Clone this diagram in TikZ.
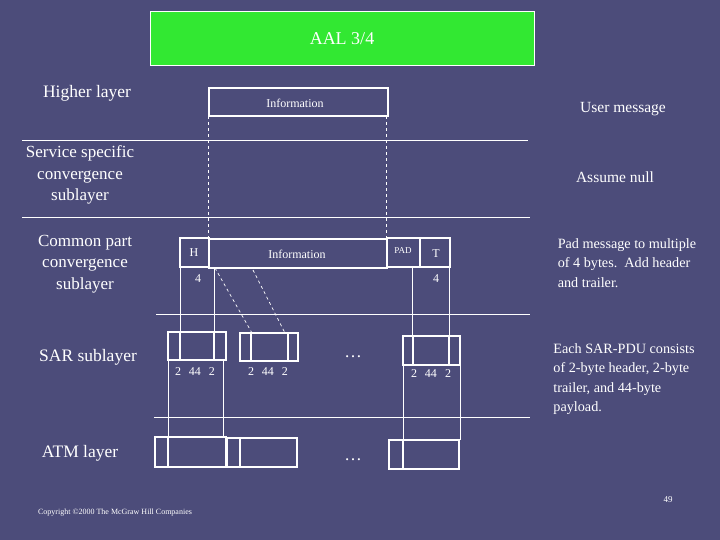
\documentclass[tikz,border=0pt]{standalone}
\usepackage{fontspec}
\setmainfont{Liberation Serif}
\definecolor{bg}{RGB}{76,76,122}
\definecolor{gr}{RGB}{50,232,50}
\begin{document}
\begin{tikzpicture}[x=1pt,y=-1pt,
  bx/.style={draw=white,line width=1.6pt},
  ln/.style={draw=white,line width=0.7pt},
  dl/.style={draw=white,line width=0.7pt,dashed},
  lb/.style={text=white,font=\fontsize{17.5}{21}\selectfont,align=center},
  sm/.style={text=white,font=\fontsize{12}{14}\selectfont}]
\fill[bg] (0,0) rectangle (720,540);
\useasboundingbox (0,0) rectangle (720,540);
\node[fill=gr,draw=white,line width=1pt,minimum width=384pt,minimum height=54pt,text=white,font=\fontsize{18}{20}\selectfont] (title) at (342,39) {AAL 3/4};
% top
\draw[bx] (209,88) rectangle (388,116);
\node[sm] (info1) at (295,103) {Information};
\draw[dl] (208,116) -- (208,239);
\draw[dl] (386,116) -- (386,239);
\draw[ln] (22,140) -- (528,140);
\draw[ln] (22,217) -- (530,217);
% common part
\draw[bx] (180,238) rectangle (209,267);
\draw[bx] (209,239) rectangle (387,268);
\draw[bx] (387,238) rectangle (420,267);
\draw[bx] (420,238) rectangle (450,267);
\node[sm] (h) at (194,253) {H};
\node[sm] (info2) at (297,254) {Information};
\node[text=white,font=\fontsize{9}{10}\selectfont] (pad) at (403,251) {PAD};
\node[sm] (t) at (436,254) {T};
\node[sm] (f1) at (198,279) {4};
\node[sm] (f2) at (436,279) {4};
\draw[ln] (180,267) -- (180,332);
\draw[ln] (214,267) -- (214,332);
\draw[ln] (412,267) -- (412,336);
\draw[ln] (449,267) -- (449,336);
\draw[dl] (215,268) -- (252,333);
\draw[dl] (253,270) -- (285,333);
\draw[ln] (156,314) -- (530,314);
% SAR
\draw[bx] (168,332) rectangle (226,360); \draw[bx] (180,332) -- (180,360); \draw[bx] (214,332) -- (214,360);
\draw[bx] (240,333) rectangle (298,361); \draw[bx] (251,333) -- (251,361); \draw[bx] (288,333) -- (288,361);
\draw[bx] (403,336) rectangle (460,365); \draw[bx] (413,336) -- (413,365); \draw[bx] (449,336) -- (449,365);
\node[sm] (s1) at (195,372) {2\hspace{8pt}44\hspace{8pt}2};
\node[sm] (s2) at (268,372) {2\hspace{8pt}44\hspace{8pt}2};
\node[sm] (s3) at (431,374) {2\hspace{8pt}44\hspace{8pt}2};
\node[lb] (d1) at (353,357) {\dots};
\draw[ln] (168,360) -- (168,437);
\draw[ln] (223,360) -- (223,437);
\draw[ln] (403,365) -- (403,440);
\draw[ln] (460,365) -- (460,440);
\draw[ln] (154,417) -- (530,417);
% ATM
\draw[bx] (155,437) rectangle (226,467); \draw[bx] (168,437) -- (168,467);
\draw[bx] (227,438) rectangle (297,467); \draw[bx] (240,438) -- (240,467);
\draw[bx] (389,440) rectangle (459,469); \draw[bx] (403,440) -- (403,469);
\node[lb] (d2) at (353,460) {\dots};
% labels
\node[lb] (hl) at (87,93) {Higher layer};
\node[text=white,font=\fontsize{15.5}{18}\selectfont] (um) at (623,109) {User message};
\node[lb,font=\fontsize{17}{21.5}\selectfont] (ss) at (80,175) {Service specific\\convergence\\sublayer};
\node[text=white,font=\fontsize{15.5}{18}\selectfont] (an) at (615,177) {Assume null};
\node[lb,font=\fontsize{17}{21.5}\selectfont] (cp) at (85,264) {Common part\\convergence\\sublayer};
\node[text=white,font=\fontsize{14.2}{19.5}\selectfont,align=left] (pm) at (627,263) {Pad message to multiple\\of 4 bytes.\ \ Add header\\and trailer.};
\node[lb] (sar) at (88,357) {SAR sublayer};
\node[text=white,font=\fontsize{14.2}{19.5}\selectfont,align=left] (ea) at (624,379) {Each SAR-PDU consists\\of 2-byte header, 2-byte\\trailer, and 44-byte\\payload.};
\node[lb] (atm) at (80,453) {ATM layer};
\node[text=white,font=\fontsize{8}{9}\selectfont] (cr) at (115,513) {Copyright \textcopyright 2000 The McGraw Hill Companies};
\node[text=white,font=\fontsize{9}{10}\selectfont] (pg) at (668,500) {49};
\end{tikzpicture}
\end{document}
